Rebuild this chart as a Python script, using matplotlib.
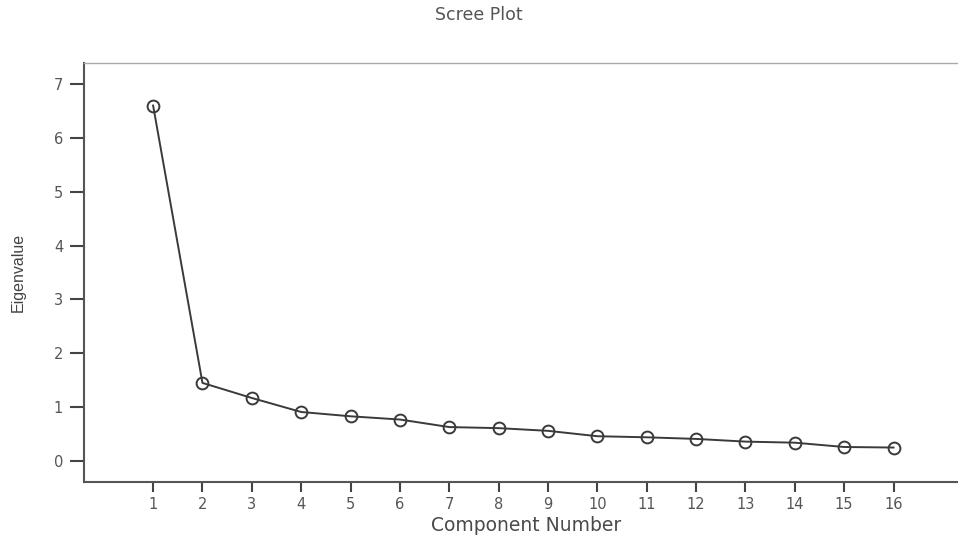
import matplotlib
matplotlib.use("Agg")
import matplotlib.pyplot as plt

components = list(range(1, 17))
eigenvalues = [6.60, 1.45, 1.17, 0.91, 0.83, 0.77, 0.63, 0.61, 0.56, 0.46, 0.44, 0.41, 0.36, 0.34, 0.26, 0.25]
y_ticks = [0, 1, 2, 3, 4, 5, 6, 7]

plt.rcParams['font.family'] = ['DejaVu Sans']

fig = plt.figure(figsize=(9.58, 5.40), dpi=100)
ax = fig.add_axes([84/958, 1 - 482/540, 1 - 84/958 + 0.01, (482 - 63)/540])

ax.plot(components, eigenvalues, color='#3a3a3a', linewidth=1.4,
        marker='o', markersize=8.5, markerfacecolor='none',
        markeredgecolor='#3a3a3a', markeredgewidth=1.4)

ax.set_xlim(-0.4, 17.5)
ax.set_ylim(-0.39, 7.39)
ax.set_xticks(components)
ax.set_yticks(y_ticks)
ax.tick_params(axis='both', colors='#444444', labelcolor='#555555', labelsize=10.5, width=1.5)
ax.tick_params(axis='y', length=10, pad=5)
ax.tick_params(axis='x', length=7, pad=4)

for s in ['left', 'bottom']:
    ax.spines[s].set_color('#555555')
    ax.spines[s].set_linewidth(1.5)
ax.spines['top'].set_color('#aaaaaa')
ax.spines['top'].set_linewidth(1.0)
ax.spines['right'].set_visible(False)

ax.set_xlabel('Component Number', fontsize=13.5, color='#4a4a4a', labelpad=3)
ax.set_ylabel('Eigenvalue', family='Liberation Sans', fontsize=11.5, color='#444444', labelpad=20)
fig.text(0.5, 1 - 15/540, 'Scree Plot', ha='center', va='center', fontsize=12.5, color='#555555')

fig.savefig('out.png', dpi=100, facecolor='white')
